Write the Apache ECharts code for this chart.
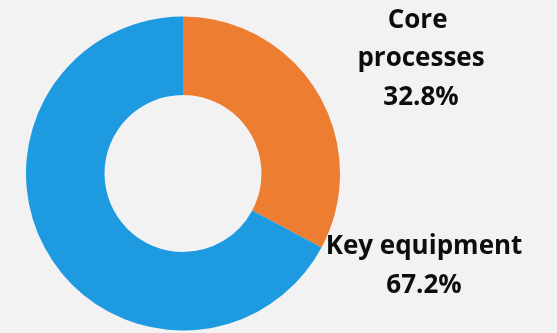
<!DOCTYPE html>
<html>
<head>
<meta charset="utf-8">
<script src="https://cdn.jsdelivr.net/npm/echarts@6/dist/echarts.min.js"></script>
<style>
  html, body { margin: 0; padding: 0; background: #F2F2F2; }
  #chart { width: 557px; height: 333px; }
</style>
</head>
<body>
<div id="chart"></div>
<script>
// Share of work by area (percent)
const categories = ['Core processes', 'Key equipment'];
const shares = [32.8, 67.2];
const colors = ['#ED7D31', '#1E9AE0'];

// Where each label block sits (centre of the text block, px)
const labelSpots = [
  { x: 421, y: 59, width: 160 },
  { x: 424, y: 266, width: 250 }
];

const chart = echarts.init(document.getElementById('chart'), null, { renderer: 'canvas' });

chart.setOption({
  backgroundColor: '#F2F2F2',
  animation: false,
  series: [{
    type: 'pie',
    center: [183, 173.5],
    radius: [78.5, 157],
    startAngle: 90,
    clockwise: true,
    percentPrecision: 1,
    avoidLabelOverlap: false,
    label: {
      show: true,
      position: 'outside',
      formatter: '{b}\n{d}%',
      fontFamily: 'Open Sans',
      fontWeight: 'bold',
      fontSize: 26,
      lineHeight: 38.5,
      color: '#0D0D0D',
      align: 'center',
      overflow: 'break'
    },
    labelLine: { show: false },
    labelLayout: function (params) {
      const spot = labelSpots[params.dataIndex];
      return { x: spot.x, y: spot.y, align: 'center', verticalAlign: 'middle' };
    },
    emphasis: { disabled: true },
    data: categories.map(function (name, i) {
      return {
        name: name,
        value: shares[i],
        itemStyle: { color: colors[i] },
        label: { width: labelSpots[i].width }
      };
    })
  }]
});
</script>
</body>
</html>
